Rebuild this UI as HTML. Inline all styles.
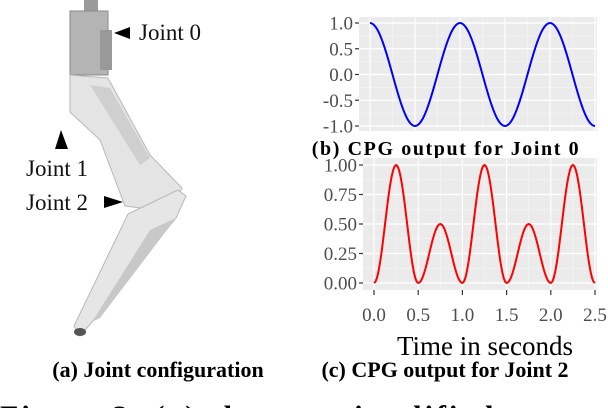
<!DOCTYPE html>
<html><head><meta charset="utf-8">
<style>
html,body{margin:0;padding:0;background:#fff;}
body{width:608px;height:408px;overflow:hidden;position:relative;font-family:"Liberation Serif",serif;}
svg{position:absolute;left:0;top:0;}
#cut{position:absolute;left:0;top:398px;width:608px;height:10px;overflow:hidden;}
#cut div{position:relative;top:3px;font-size:30px;font-weight:bold;line-height:10px;height:10px;white-space:nowrap;text-align:center;letter-spacing:3px;padding-top:11px;box-sizing:border-box;}
</style></head>
<body>
<svg id="fig" width="608" height="408" viewBox="0 0 608 408">
  <g>
    <rect x="84" y="0" width="14" height="12" fill="#9a9a9a"/>
    <rect x="70" y="11" width="38" height="64" fill="#b4b4b4" stroke="#8a8a8a"/>
    <rect x="100" y="30" width="12" height="40" fill="#999"/>
    <polygon points="70,75 108,78 150,155 182,188 170,212 125,206 100,140 70,112" fill="#e4e4e4" stroke="#b8b8b8"/>
    <polygon points="90,85 110,88 150,158 140,165" fill="#cfcfcf"/>
    <polygon points="128,214 178,190 186,196 176,218 92,322 80,336 74,326" fill="#e6e6e6" stroke="#b8b8b8"/>
    <polygon points="150,230 176,218 100,318 92,322" fill="#c8c8c8"/>
    <ellipse cx="80" cy="332" rx="6" ry="4" fill="#555"/>
  </g>
  <g font-size="23" fill="#111">
    <polygon points="114,33 130,27 130,39" fill="#000"/>
    <text x="139" y="40">Joint 0</text>
    <polygon points="61,130 55,149 68,149" fill="#000"/>
    <text x="26" y="176">Joint 1</text>
    <text x="26" y="210">Joint 2</text>
    <polygon points="104,196 123,202 104,208" fill="#000"/>
  </g>
  <text x="158" y="377" font-size="22" font-weight="bold" text-anchor="middle">(a) Joint configuration</text>
  <text x="446" y="155" font-size="20" font-weight="bold" text-anchor="middle" letter-spacing="1.6">(b) CPG output for Joint 0</text>
  <text x="445" y="377" font-size="22" font-weight="bold" text-anchor="middle">(c) CPG output for Joint 2</text>
  <text x="485" y="355" font-size="27" text-anchor="middle">Time in seconds</text>
  <g id="top"></g>
  <g id="bot"></g>
</svg>
<div id="cut"><div>Figure 3: (a) shows a simplified representation of a leg of the</div></div>
<script>
// Joint 0 chart data: extremes of the oscillation
const j0Times = [0, 0.5, 1.0, 1.5, 2.0, 2.5];
const j0Values = [1, -1, 1, -1, 1, -1];
const j0YTicks = [-1.0, -0.5, 0.0, 0.5, 1.0];
const j0YLabels = ["-1.0", "-0.5", "0.0", "0.5", "1.0"];
// Joint 2 chart data: hump peaks
const j2PeakTimes = [0.25, 0.75, 1.25, 1.75, 2.25];
const j2PeakValues = [1.0, 0.5, 1.0, 0.5, 1.0];
const j2YTicks = [0, 0.25, 0.5, 0.75, 1.0];
const j2YLabels = ["0.00", "0.25", "0.50", "0.75", "1.00"];
const xTicks = [0, 0.5, 1.0, 1.5, 2.0, 2.5];
const xLabels = ["0.0", "0.5", "1.0", "1.5", "2.0", "2.5"];

const NS = "http://www.w3.org/2000/svg";
function mk(parent, tag, attrs){const e=document.createElementNS(NS,tag);for(const k in attrs)e.setAttribute(k,attrs[k]);parent.appendChild(e);return e;}

function panel(g, px0, px1, py0, py1, xs, ys, yTicks, yLabels, name){
  const bg = mk(g,'rect',{x:px0,y:py0,width:px1-px0,height:py1-py0,fill:'#ebebeb'});
  
  
  for(let i=0;i<xTicks.length;i++){
    const x=xs(xTicks[i]);
    const l=mk(g,'line',{x1:x,x2:x,y1:py0,y2:py1,stroke:'#fff','stroke-width':1.2});
    
    
    if(i<xTicks.length-1){const xm=xs((xTicks[i]+xTicks[i+1])/2);
      const m=mk(g,'line',{x1:xm,x2:xm,y1:py0,y2:py1,stroke:'#f7f7f7','stroke-width':0.6});
      
      }
  }
  for(let i=0;i<yTicks.length;i++){
    const y=ys(yTicks[i]);
    const l=mk(g,'line',{x1:px0,x2:px1,y1:y,y2:y,stroke:'#fff','stroke-width':1.2});
    
    
    if(i<yTicks.length-1){const ym=ys((yTicks[i]+yTicks[i+1])/2);
      const m=mk(g,'line',{x1:px0,x2:px1,y1:ym,y2:ym,stroke:'#f7f7f7','stroke-width':0.6});
      
      }
    const tk=mk(g,'line',{x1:px0-4,x2:px0,y1:y,y2:y,stroke:'#333','stroke-width':1.2});
    
    
    const t=mk(g,'text',{x:px0-6,y:y+6.5,'font-size':19,fill:'#4d4d4d','text-anchor':'end'});
    t.textContent=yLabels[i];
    
    
  }
}

// Top chart
const tg=document.getElementById('top');
const tx=v=>370+v*90, ty=v=>74.5-v*51.5;
panel(tg,359,597,17,131,tx,ty,j0YTicks,j0YLabels,'joint0');
let d='';
for(let i=0;i<j0Times.length-1;i++){
  for(let s=0;s<=30;s++){const f=s/30;const t=j0Times[i]+f*(j0Times[i+1]-j0Times[i]);
    const w=(1-Math.cos(Math.PI*f))/2;const v=j0Values[i]+(j0Values[i+1]-j0Values[i])*w;
    d+=(d?'L':'M')+tx(t).toFixed(2)+','+ty(v).toFixed(2);}
}
const p0=mk(tg,'path',{d:d,fill:'none',stroke:'#0000ff','stroke-width':2});



// Bottom chart
const bg=document.getElementById('bot');
const bx=v=>374+v*88.4, by=v=>283-v*118;
panel(bg,363,597,158,290,bx,by,j2YTicks,j2YLabels,'joint2');
let d2='';
for(let i=0;i<j2PeakTimes.length;i++){
  const t0=j2PeakTimes[i]-0.25;
  for(let s=0;s<=30;s++){const f=s/30;const t=t0+f*0.5;const v=j2PeakValues[i]*Math.pow(Math.sin(Math.PI*f),2);
    d2+=(d2?'L':'M')+bx(t).toFixed(2)+','+by(v).toFixed(2);}
}
const p2=mk(bg,'path',{d:d2,fill:'none',stroke:'#ff0000','stroke-width':2});


for(let i=0;i<xTicks.length;i++){
  const x=bx(xTicks[i]);
  const tk=mk(bg,'line',{x1:x,x2:x,y1:290,y2:295,stroke:'#333','stroke-width':1.2});
  
  
  const t=mk(bg,'text',{x:x,y:321,'font-size':19,fill:'#4d4d4d','text-anchor':'middle'});
  t.textContent=xLabels[i];
  
  
}
</script>
</body></html>
